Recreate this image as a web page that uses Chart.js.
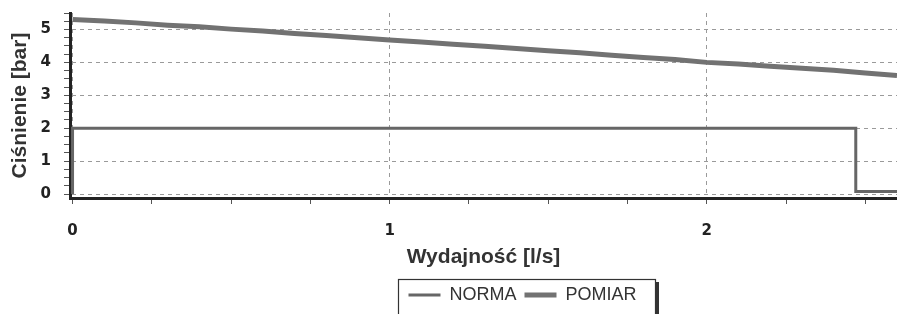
<!DOCTYPE html>
<html>
<head>
<meta charset="utf-8">
<script src="https://cdn.jsdelivr.net/npm/chart.js@4"></script>
<style>
  html, body { margin: 0; padding: 0; background: #fff; }
  #wrap { width: 897px; height: 314px; position: relative; }
</style>
</head>
<body>
<div id="wrap"><canvas id="myChart"></canvas></div>
<script>
// Wydajność [l/s] vs Ciśnienie [bar]
const normaX = [0, 0, 2.47, 2.47, 2.6];
const normaY = [0, 2, 2, 0.08, 0.08];

const pomiarX = [0, 0.1, 0.2, 0.3, 0.4, 0.5, 0.6, 0.7, 0.8, 0.9, 1.0, 1.1, 1.2, 1.3,
                 1.4, 1.5, 1.6, 1.7, 1.8, 1.9, 2.0, 2.1, 2.2, 2.3, 2.4, 2.5, 2.6];
const pomiarY = [5.30, 5.26, 5.20, 5.13, 5.08, 5.01, 4.95, 4.88, 4.82, 4.75, 4.68, 4.62, 4.55, 4.49,
                 4.42, 4.35, 4.29, 4.22, 4.15, 4.09, 4.00, 3.95, 3.88, 3.82, 3.76, 3.68, 3.60];

const seriesNames = ['NORMA', 'POMIAR'];
const xLabelTicks = [0, 1, 2];
const yLabelTicks = [0, 1, 2, 3, 4, 5];

const toPoints = (xs, ys) => xs.map((x, i) => ({ x: x, y: ys[i] }));
const isMajor = (v, list) => list.some(t => Math.abs(t - v) < 1e-6);

const ctx = document.getElementById('myChart');

// frame round the legend, like the original
const legendBox = {
  id: 'legendBox',
  afterLayout(chart) {
    const l = chart.legend;
    l.left += 74;
    l.right += 74;
  },
  afterDraw(chart) {
    const l = chart.legend;
    const w = l.lineWidths[0];
    const cx = (l.left + l.right) / 2;
    const x0 = Math.round(cx - w / 2) - 6;
    const x1 = Math.round(cx + w / 2) + 14;
    const y0 = Math.round(l.top) + 1;
    const c = chart.ctx;
    c.save();
    c.strokeStyle = '#333';
    c.lineWidth = 1.2;
    c.strokeRect(x0 + 0.5, y0 + 0.5, x1 - x0, 60);
    c.lineWidth = 3;
    c.beginPath();
    c.moveTo(x1 + 2.5, y0 + 3);
    c.lineTo(x1 + 2.5, y0 + 60);
    c.stroke();
    c.restore();
  }
};

new Chart(ctx, {
  type: 'scatter',
  data: {
    datasets: [{
      label: seriesNames[0],
      data: toPoints(normaX, normaY),
      showLine: true,
      borderColor: '#666',
      backgroundColor: '#666',
      borderWidth: 3,
      pointRadius: 0
    }, {
      label: seriesNames[1],
      data: toPoints(pomiarX, pomiarY),
      showLine: true,
      borderColor: '#727272',
      backgroundColor: '#727272',
      borderWidth: 5,
      pointRadius: 0
    }]
  },
  plugins: [legendBox],
  options: {
    responsive: true,
    maintainAspectRatio: false,
    animation: false,
    layout: { padding: { top: 13, right: 0, left: 0, bottom: 0 } },
    plugins: {
      tooltip: { enabled: false },
      legend: {
        position: 'bottom',
        labels: {
          color: '#333',
          font: { family: 'Liberation Sans, Arial, sans-serif', size: 18 },
          usePointStyle: true,
          pointStyleWidth: 32,
          pointStyle: 'line',
          padding: 8
        }
      }
    },
    scales: {
      x: {
        type: 'linear',
        min: -0.008,
        max: 2.6,
        afterFit: s => { s.height = 80; s.paddingLeft = 0; s.paddingRight = 0; },
        afterBuildTicks: s => {
          const t = [];
          for (let v = 0; v <= 2.6 + 1e-9; v += 0.25) t.push({ value: Math.round(v * 100) / 100 });
          s.ticks = t;
        },
        ticks: {
          autoSkip: false,
          maxRotation: 0,
          padding: 18,
          color: '#222',
          font: { family: 'DejaVu Sans', size: 15, weight: 'bold' },
          callback: v => isMajor(v, xLabelTicks) ? String(Math.round(v)) : ''
        },
        grid: {
          color: c => isMajor(c.tick.value, xLabelTicks) ? '#9a9a9a' : 'rgba(0,0,0,0)',
          tickColor: '#555',
          tickLength: 6,
          lineWidth: 1
        },
        border: { color: '#222', width: 3, dash: [4, 4] },
        title: {
          display: true,
          text: 'Wydajność [l/s]',
          color: '#333',
          font: { family: 'Liberation Sans, Arial, sans-serif', size: 21, weight: 'bold' },
          padding: { top: 6, bottom: 8 }
        }
      },
      y: {
        type: 'linear',
        min: -0.12,
        max: 5.5,
        afterFit: s => { s.width = 70; s.paddingTop = 0; s.paddingBottom = 0; },
        afterBuildTicks: s => {
          const t = [];
          for (let v = 0; v <= 5.5 + 1e-9; v += 0.25) t.push({ value: Math.round(v * 100) / 100 });
          s.ticks = t;
        },
        ticks: {
          autoSkip: false,
          padding: 13,
          color: '#222',
          font: { family: 'DejaVu Sans', size: 15, weight: 'bold' },
          callback: v => isMajor(v, yLabelTicks) ? String(Math.round(v)) : ''
        },
        grid: {
          color: c => isMajor(c.tick.value, yLabelTicks) ? '#9a9a9a' : 'rgba(0,0,0,0)',
          tickColor: '#555',
          tickLength: 6,
          lineWidth: 1
        },
        border: { color: '#222', width: 3, dash: [4, 4] },
        title: {
          display: true,
          text: 'Ciśnienie [bar]',
          color: '#333',
          font: { family: 'Liberation Sans, Arial, sans-serif', size: 21, weight: 'bold' },
          padding: { top: 8, bottom: 4 }
        }
      }
    }
  }
});
</script>
</body>
</html>
